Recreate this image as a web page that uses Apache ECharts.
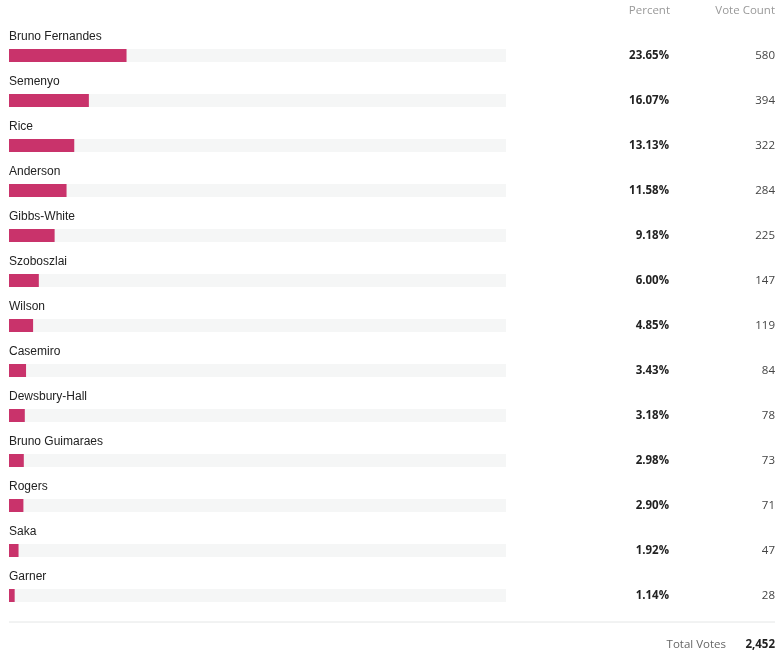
<!DOCTYPE html>
<html>
<head>
<meta charset="utf-8">
<script src="https://cdn.jsdelivr.net/npm/echarts@6/dist/echarts.min.js"></script>
<style>
html, body { margin: 0; padding: 0; background: #fff; }
#chart { width: 782px; height: 660px; }
</style>
</head>
<body>
<div id="chart"></div>
<script>
var players = ['Bruno Fernandes', 'Semenyo', 'Rice', 'Anderson', 'Gibbs-White', 'Szoboszlai', 'Wilson',
               'Casemiro', 'Dewsbury-Hall', 'Bruno Guimaraes', 'Rogers', 'Saka', 'Garner'];
var percents = [23.65, 16.07, 13.13, 11.58, 9.18, 6.00, 4.85, 3.43, 3.18, 2.98, 2.90, 1.92, 1.14];
var votes = [580, 394, 322, 284, 225, 147, 119, 84, 78, 73, 71, 47, 28];

var totalVotes = votes.reduce(function (a, b) { return a + b; }, 0);
var numFont = '"Open Sans", sans-serif';

var myChart = echarts.init(document.getElementById('chart'));

var option = {
    backgroundColor: '#fff',
    animation: false,
    grid: {
        left: 9,
        width: 497,
        top: 33,
        height: 585
    },
    xAxis: {
        type: 'value',
        min: 0,
        max: 100,
        show: false
    },
    yAxis: [
        {
            type: 'category',
            inverse: true,
            data: players,
            show: false
        },
        {
            type: 'category',
            inverse: true,
            position: 'right',
            offset: 155,
            data: percents.map(function (p) { return p.toFixed(2) + '%'; }),
            axisLine: {show: false},
            axisTick: {show: false},
            axisLabel: {
                margin: 8,
                align: 'right',
                color: '#222',
                fontWeight: 'bold',
                fontSize: 11.5,
                fontFamily: numFont
            }
        },
        {
            type: 'category',
            inverse: true,
            position: 'right',
            offset: 261,
            data: votes.map(String),
            axisLine: {show: false},
            axisTick: {show: false},
            axisLabel: {
                margin: 8,
                align: 'right',
                color: '#444',
                fontSize: 11.5,
                fontFamily: numFont
            }
        }
    ],
    series: [
        {
            type: 'bar',
            data: percents,
            barWidth: 13,
            itemStyle: {color: '#c9336b'},
            showBackground: true,
            backgroundStyle: {color: '#f5f6f6'},
            label: {
                show: true,
                position: [0, -18],
                formatter: '{b}',
                color: '#222',
                fontSize: 12,
                fontFamily: 'Arial, "Liberation Sans", sans-serif'
            }
        }
    ],
    graphic: [
        {
            type: 'text',
            right: 112,
            top: 5,
            style: {text: 'Percent', fill: '#999', fontSize: 11.5, fontFamily: numFont}
        },
        {
            type: 'text',
            right: 7,
            top: 5,
            style: {text: 'Vote Count', fill: '#999', fontSize: 11.5, fontFamily: numFont}
        },
        {
            type: 'line',
            shape: {x1: 9, y1: 622, x2: 775, y2: 622},
            style: {stroke: '#e4e6e6', lineWidth: 1}
        },
        {
            type: 'text',
            right: 56,
            top: 639,
            style: {text: 'Total Votes', fill: '#666', fontSize: 11.5, fontFamily: numFont}
        },
        {
            type: 'text',
            right: 7,
            top: 639,
            style: {
                text: totalVotes.toLocaleString('en-US'),
                fill: '#222',
                fontSize: 11.5,
                fontWeight: 'bold',
                fontFamily: numFont
            }
        }
    ]
};
myChart.setOption(option);
</script>
</body>
</html>
